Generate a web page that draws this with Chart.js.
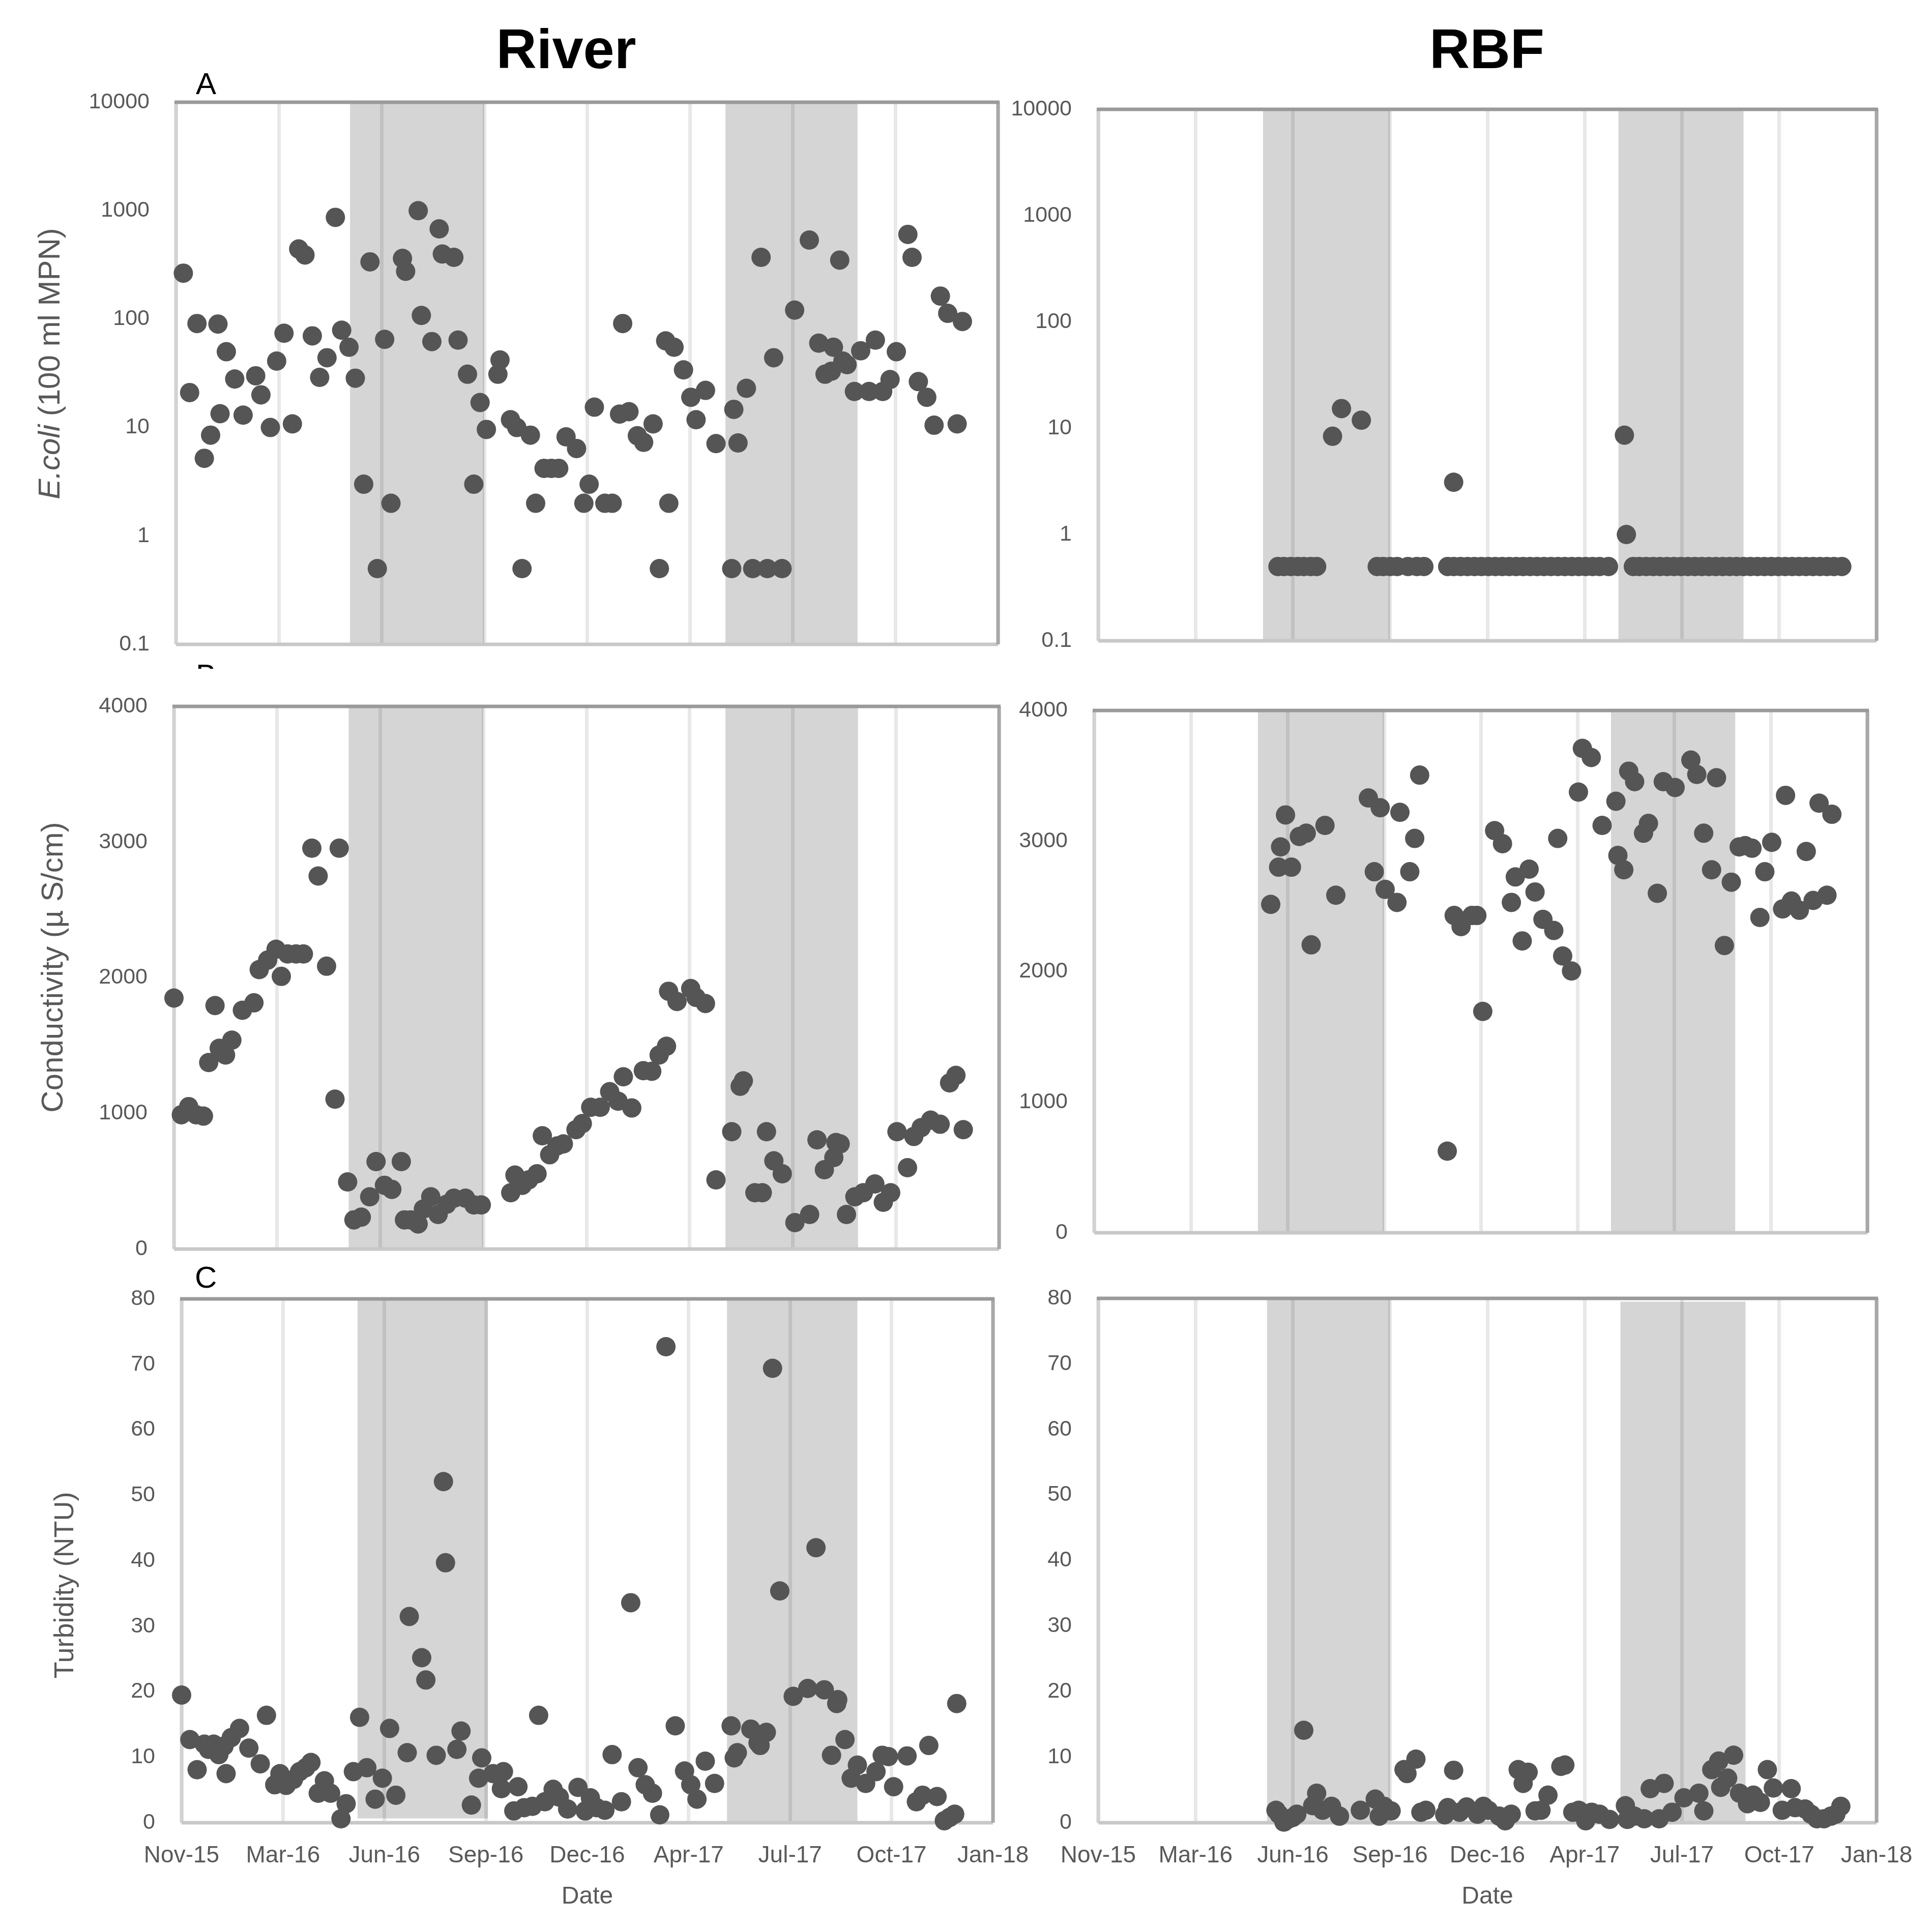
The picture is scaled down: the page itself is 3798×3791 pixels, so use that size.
<!DOCTYPE html>
<html>
<head>
<meta charset="utf-8">
<script src="https://cdn.jsdelivr.net/npm/chart.js@4.4.0/dist/chart.umd.min.js"></script>
<style>
  body { margin: 0; background: #fff; width: 3798px; height: 3791px; position: relative; overflow: hidden;
         font-family: "Liberation Sans", Arial, sans-serif; }
  canvas { position: absolute; }
  .t { position: absolute; white-space: nowrap; }
  .head { font-weight: bold; font-size: 110px; line-height: 110px; color: #000; transform: translateX(-50%); }
  .letter { font-size: 60px; line-height: 60px; color: #000; }
  .ytitle { color: #595959; transform: translate(-50%, -50%) rotate(-90deg); }
</style>
</head>
<body>
<div class="t head" style="left:1113px; top:41px">River</div>
<div class="t head" style="left:2923px; top:41px">RBF</div>
<div class="t letter" style="left:385px; top:135px">A</div>
<div class="t" style="left:385px; top:1306px; height:9px; width:60px; overflow:hidden">
  <div class="t letter" style="left:0; top:-8px">B</div>
</div>
<div class="t letter" style="left:383px; top:2482px">C</div>
<div class="t ytitle" style="left:96px; top:715px; font-size:60px"><i>E.coli</i> (100 ml MPN)</div>
<div class="t ytitle" style="left:102px; top:1902px; font-size:60px">Conductivity (µ S/cm)</div>
<div class="t ytitle" style="left:125px; top:3117px; font-size:54px">Turbidity (NTU)</div>

<script>
// x axis: days counted from the first tick (Nov-15)
const tickDays = [0, 98, 196, 294, 392, 490, 588, 686, 784];
const tickLabels = ['Nov-15', 'Mar-16', 'Jun-16', 'Sep-16', 'Dec-16', 'Apr-17', 'Jul-17', 'Oct-17', 'Jan-18'];
const ecoliTicks = [0.1, 1, 10, 100, 1000, 10000];
const condTicks = [0, 1000, 2000, 3000, 4000];
const turbTicks = [0, 10, 20, 30, 40, 50, 60, 70, 80];

// shaded periods (days)
const bandsAB = [[166, 294], [524, 650]];
const bandsRiverC = [[170, 296, 0.65, 80], [527, 653, 0, 80]];
const bandsRbfC = [[170, 294, 0, 80], [526, 652, 0, 79.5]];

// River - E.coli
const riverEcoliDays = [7,13,20,27,33,40,42,48,56,64,76,81,90,96,103,111,117,123,130,137,144,152,158,165,171,179,185,192,199,205,216,219,231,234,244,251,254,265,269,278,284,290,296,307,309,319,325,330,338,343,351,358,365,372,382,389,394,399,409,416,423,426,432,440,446,455,461,467,470,475,484,491,496,505,515,530,532,536,544,550,558,564,570,578,590,604,613,619,625,627,633,636,640,647,653,661,667,674,681,687,698,702,708,716,723,729,736,745,750];
const riverEcoli = [265,21,91,5.2,8.5,90,13.4,50,28,13,30,20,10,41,74,10.8,443,390,70,29,44,867,79,55,28.5,3.0,337,0.5,65,2.0,363,276,1000,108,62,679,398,371,64,31,3.0,17,9.6,31,42,11.8,10,0.5,8.5,2.0,4.2,4.2,4.2,8.2,6.4,2.0,3.0,15.4,2.0,2.0,13.3,91,14,8.4,7.3,10.8,0.5,63,2.0,55,34,19,11.8,22,7.1,0.5,14.7,7.2,23,0.5,371,0.5,44,0.5,121,536,60,31,33,55,350,41,38,21.5,51,21.5,64,21.5,27.7,50,604,371,26.5,19,10.5,163,113,10.8,95];

// RBF - E.coli
const rbfEcoliDays = [181,187,194,201,207,214,220,236,245,265,281,287,294,301,312,321,328,352,358,358,365,372,379,386,393,400,407,414,421,428,435,442,449,456,463,470,477,484,491,498,505,514,530,532,539,545,552,559,566,573,580,587,594,601,608,615,622,629,636,643,650,657,664,671,678,685,692,699,706,713,720,727,734,741,749];
const rbfEcoli = [0.5,0.5,0.5,0.5,0.5,0.5,0.5,8.4,15.3,11.9,0.5,0.5,0.5,0.5,0.5,0.5,0.5,0.5,0.5,3.1,0.5,0.5,0.5,0.5,0.5,0.5,0.5,0.5,0.5,0.5,0.5,0.5,0.5,0.5,0.5,0.5,0.5,0.5,0.5,0.5,0.5,0.5,8.6,1.0,0.5,0.5,0.5,0.5,0.5,0.5,0.5,0.5,0.5,0.5,0.5,0.5,0.5,0.5,0.5,0.5,0.5,0.5,0.5,0.5,0.5,0.5,0.5,0.5,0.5,0.5,0.5,0.5,0.5,0.5,0.5];

// River - conductivity
const riverCondDays = [0,7,14,21,28,33,39,43,49,55,65,76,81,89,97,102,108,116,123,131,137,145,153,157,165,171,178,186,192,200,207,216,219,225,232,237,244,251,259,266,277,285,292,320,324,331,337,345,350,357,364,370,382,388,396,405,414,422,427,435,446,454,461,468,470,478,491,496,505,515,530,538,541,552,559,563,570,578,590,604,611,618,627,629,633,639,647,655,666,674,681,687,697,703,710,719,728,737,743,750];
const riverCond = [1850,990,1050,990,980,1375,1795,1480,1430,1540,1760,1815,2060,2130,2210,2010,2175,2175,2175,2955,2750,2085,1105,2955,495,215,235,385,645,470,440,645,215,215,185,295,385,255,330,375,375,325,325,415,545,470,510,555,835,695,760,775,880,925,1045,1045,1160,1090,1270,1040,1315,1310,1430,1495,1900,1825,1920,1855,1810,510,865,1200,1240,415,415,865,650,555,195,255,805,585,675,785,775,255,385,415,480,345,415,865,600,830,895,950,920,1225,1280,880];

// RBF - conductivity
const rbfCondDays = [179,187,189,194,200,208,215,220,234,245,278,284,290,295,307,310,320,325,330,358,365,372,383,388,394,406,414,423,427,434,441,447,455,466,470,475,484,491,495,504,515,529,531,537,542,548,557,562,571,577,589,605,611,618,626,631,639,646,654,660,667,675,680,687,698,701,707,715,722,729,735,743,748];
const rbfCond = [2515,2800,2955,3200,2800,3035,3060,2205,3120,2585,3330,2765,3255,2630,2530,3220,2765,3020,3505,625,2430,2345,2430,2430,1695,3080,2980,2530,2725,2235,2785,2610,2400,2315,3020,2120,2005,3375,3710,3640,3120,3305,2890,2780,3535,3455,3060,3135,2600,3455,3410,3620,3510,3060,2780,3485,2200,2685,2955,2965,2945,2415,2765,2990,2480,3350,2540,2470,2920,2545,3290,2585,3205];

// River - turbidity
const riverTurbDays = [0,8,15,22,26,31,36,41,43,48,56,65,76,82,90,95,101,108,114,120,125,132,138,144,154,159,166,172,179,187,194,201,207,218,220,232,236,246,253,255,266,270,280,287,290,301,309,311,321,325,331,339,345,351,359,365,373,383,390,395,401,409,416,425,434,441,448,455,462,468,477,486,492,498,506,515,531,534,537,550,557,559,565,571,578,591,605,613,621,628,633,634,641,647,653,661,671,677,683,688,701,710,716,722,730,737,742,747,749];
const riverTurb = [19.5,12.7,8.1,12.0,11.2,12.0,10.4,11.7,7.5,13.0,14.4,11.4,9.0,16.4,5.8,7.5,5.7,6.6,7.8,8.4,9.2,4.5,6.4,4.5,0.6,2.9,7.8,16.1,8.4,3.6,6.8,14.4,4.2,10.7,31.5,25.2,21.8,10.3,52.1,39.7,11.2,14.0,2.7,6.8,9.9,7.5,5.2,7.8,1.8,5.5,2.3,2.5,16.4,3.2,5.1,3.9,2.1,5.4,1.8,3.8,2.3,1.9,10.4,3.2,33.6,8.4,5.8,4.5,1.2,72.7,14.8,7.9,5.8,3.6,9.4,6.0,14.8,9.9,10.7,14.3,12.2,11.8,13.8,69.4,35.4,19.3,20.5,42.0,20.3,10.3,18.2,18.8,12.7,6.8,8.8,6.0,7.8,10.3,10.1,5.5,10.2,3.2,4.2,11.8,4.0,0.3,0.8,1.3,18.2];

// RBF - turbidity
const rbfTurbDays = [179,182,187,191,196,200,207,216,220,226,235,243,264,279,283,288,295,308,311,320,325,330,349,352,358,364,371,382,388,393,404,410,416,423,428,433,440,446,453,466,470,478,484,491,497,505,515,531,533,540,550,556,565,570,578,590,605,610,618,625,627,634,640,646,654,660,667,674,680,689,698,702,712,718,724,731,738,743,748];
const rbfTurb = [1.9,1.3,0.1,0.5,0.8,1.3,14.1,2.6,4.5,1.9,2.5,1.0,1.9,3.6,1.0,2.5,1.8,8.1,7.5,9.7,1.6,1.9,1.2,2.3,8.0,1.6,2.4,1.3,2.5,1.9,1.0,0.3,1.3,8.1,6.0,7.7,1.8,1.9,4.2,8.6,8.8,1.6,1.9,0.3,1.6,1.3,0.5,2.6,0.5,1.0,0.6,5.2,0.6,6.0,1.6,3.8,4.5,1.8,8.1,9.4,5.4,6.8,10.3,4.5,2.9,4.2,3.1,8.1,5.3,1.9,5.2,2.3,2.1,1.3,0.6,0.6,1.0,1.3,2.5];

// grey season bands under the grid, plot frame under the points
function seasonPlugin(bands) {
  return {
    id: 'season',
    beforeDraw(chart) {
      const { ctx, chartArea: a, scales: { x, y } } = chart;
      ctx.save();
      ctx.fillStyle = '#d5d5d5';
      bands.forEach(b => {
        const x0 = x.getPixelForValue(b[0]);
        const x1 = x.getPixelForValue(b[1]);
        const top = b.length > 2 ? y.getPixelForValue(b[3]) : a.top;
        const bot = b.length > 2 ? y.getPixelForValue(b[2]) : a.bottom;
        ctx.fillRect(x0, top, x1 - x0, bot - top);
      });
      ctx.restore();
    },
    beforeDatasetsDraw(chart) {
      const { ctx, chartArea: a } = chart;
      const seg = (x0, y0, x1, y1, c) => {
        ctx.strokeStyle = c;
        ctx.beginPath(); ctx.moveTo(x0, y0); ctx.lineTo(x1, y1); ctx.stroke();
      };
      ctx.save();
      ctx.lineWidth = 7;
      seg(a.left, a.top, a.left, a.bottom, '#d2d2d2');
      seg(a.left, a.bottom, a.right, a.bottom, '#c8c8c8');
      seg(a.right, a.top, a.right, a.bottom, '#a8a8a8');
      seg(a.left - 3, a.top, a.right + 3, a.top, '#9a9a9a');
      ctx.restore();
    }
  };
}

// keep the plot box exactly where it is placed: no extra room for overhanging labels
function noOverhang(s) {
  s.paddingTop = 0; s.paddingBottom = 0; s.paddingLeft = 0; s.paddingRight = 0;
}

const tickFont = { family: 'Liberation Sans', size: 43 };

function makeChart(box, days, vals, yCfg, bands, bottomRow) {
  const padTop = 30, padRight = 100, yW = 200, xH = bottomRow ? 180 : 30;
  const canvas = document.createElement('canvas');
  const w = box.R - box.L + yW + padRight;
  const h = box.B - box.T + padTop + xH;
  canvas.width = w; canvas.height = h;
  canvas.style.left = (box.L - yW) + 'px';
  canvas.style.top = (box.T - padTop) + 'px';
  canvas.style.width = w + 'px';
  canvas.style.height = h + 'px';
  document.body.appendChild(canvas);

  new Chart(canvas, {
    type: 'scatter',
    data: {
      datasets: [{
        data: days.map((d, i) => ({ x: d, y: vals[i] })),
        backgroundColor: '#555555',
        borderWidth: 0,
        pointRadius: 19,
        pointHoverRadius: 19,
        clip: false
      }]
    },
    options: {
      responsive: false,
      animation: false,
      devicePixelRatio: 1,
      events: [],
      layout: { padding: { top: padTop, right: padRight, left: 0, bottom: 0 } },
      plugins: { legend: { display: false }, tooltip: { enabled: false } },
      scales: {
        x: {
          type: 'linear',
          min: 0, max: 784,
          afterBuildTicks: s => { s.ticks = tickDays.map(v => ({ value: v })); },
          afterFit: s => { s.height = xH; noOverhang(s); },
          grid: { color: 'rgba(0,0,0,0.09)', lineWidth: 7, drawTicks: false },
          border: { display: false },
          ticks: {
            display: bottomRow,
            callback: (v, i) => tickLabels[i],
            color: '#595959',
            font: { family: 'Liberation Sans', size: 46 },
            padding: 38, maxRotation: 0, autoSkip: false
          },
          title: {
            display: bottomRow, text: 'Date', color: '#595959',
            font: { family: 'Liberation Sans', size: 48 },
            padding: { top: 0, bottom: 5 }
          }
        },
        y: {
          type: yCfg.type,
          min: yCfg.ticks[0], max: yCfg.ticks[yCfg.ticks.length - 1],
          afterBuildTicks: s => { s.ticks = yCfg.ticks.map(v => ({ value: v })); },
          afterFit: s => { s.width = yW; noOverhang(s); },
          grid: { display: false },
          border: { display: false },
          ticks: {
            callback: v => String(v),
            color: '#595959',
            font: tickFont,
            padding: 44
          }
        }
      }
    },
    plugins: [seasonPlugin(bands)]
  });
}

const logY = { type: 'logarithmic', ticks: ecoliTicks };
const condY = { type: 'linear', ticks: condTicks };
const turbY = { type: 'linear', ticks: turbTicks };

makeChart({ L: 346, R: 1962, T: 201, B: 1267 }, riverEcoliDays, riverEcoli, logY, bandsAB, false);
makeChart({ L: 2159, R: 3689, T: 215, B: 1260 }, rbfEcoliDays, rbfEcoli, logY, bandsAB, false);
makeChart({ L: 342, R: 1964, T: 1389, B: 2456 }, riverCondDays, riverCond, condY, bandsAB, false);
makeChart({ L: 2151, R: 3671, T: 1397, B: 2424 }, rbfCondDays, rbfCond, condY, bandsAB, false);
makeChart({ L: 357, R: 1952, T: 2554, B: 3584 }, riverTurbDays, riverTurb, turbY, bandsRiverC, true);
makeChart({ L: 2159, R: 3689, T: 2553, B: 3584 }, rbfTurbDays, rbfTurb, turbY, bandsRbfC, true);
</script>
</body>
</html>
